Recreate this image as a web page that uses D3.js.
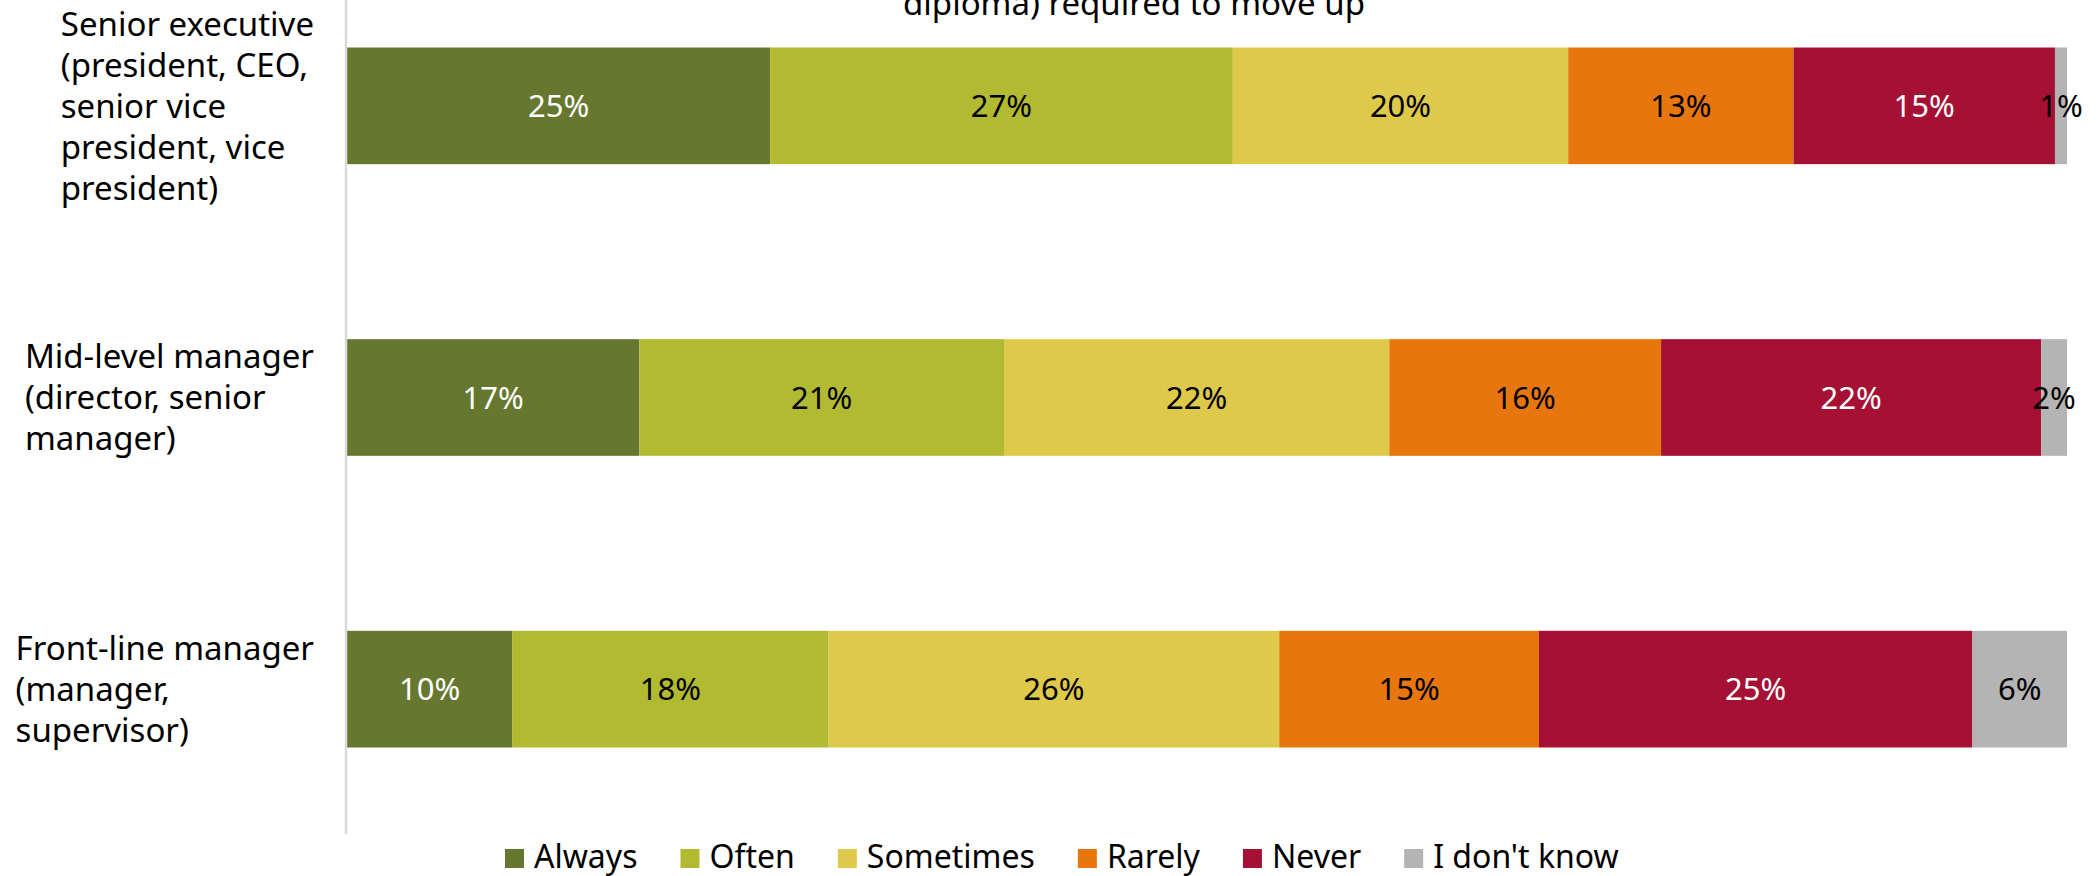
<!DOCTYPE html>
<html>
<head>
<meta charset="utf-8">
<script src="https://cdn.jsdelivr.net/npm/d3@7"></script>
<style>
  body { margin: 0; background: #fff; }
  text { font-family: "Noto Sans", "Liberation Sans", sans-serif; }
</style>
</head>
<body>
<div id="chart"></div>
<script>
// categories, top to bottom
const categories = [
  "Senior executive (president, CEO, senior vice president, vice president)",
  "Mid-level manager (director, senior manager)",
  "Front-line manager (manager, supervisor)"
];
const categoryLines = [
  ["Senior executive", "(president, CEO,", "senior vice", "president, vice", "president)"],
  ["Mid-level manager", "(director, senior", "manager)"],
  ["Front-line manager", "(manager,", "supervisor)"]
];

const seriesNames = ["Always", "Often", "Sometimes", "Rarely", "Never", "I don't know"];
const seriesColors = ["#66782f", "#b2ba32", "#dec94b", "#e7760e", "#a41134", "#b4b4b4"];
const labelColors = ["#fff", "#000", "#000", "#000", "#fff", "#000"];

// percent per category (senior, mid, front-line)
const always    = [24.6, 17.0, 9.6];
const often     = [26.9, 21.2, 18.4];
const sometimes = [19.5, 22.4, 26.2];
const rarely    = [13.1, 15.8, 15.1];
const never     = [15.2, 22.1, 25.2];
const dontKnow  = [0.7, 1.5, 5.5];

const titleText = "diploma) required to move up";

const width = 2099, height = 876;
const margin = { top: -40, right: 32, bottom: 41, left: 347 };

const rows = categories.map((c, i) => ({
  category: c,
  "Always": always[i],
  "Often": often[i],
  "Sometimes": sometimes[i],
  "Rarely": rarely[i],
  "Never": never[i],
  "I don't know": dontKnow[i]
}));

const stacked = d3.stack().keys(seriesNames)(rows);

const svg = d3.select("#chart")
  .append("svg")
  .attr("width", width)
  .attr("height", height);

const x = d3.scaleLinear()
  .domain([0, 100])
  .range([margin.left, width - margin.right]);

const y = d3.scaleBand()
  .domain(categories)
  .range([margin.top, height - margin.bottom])
  .paddingInner(0.6)
  .paddingOuter(0.3);

// title (only the last line is in view)
svg.append("text")
  .attr("x", 1134)
  .attr("y", 15)
  .attr("text-anchor", "middle")
  .attr("font-size", 33)
  .attr("fill", "#000")
  .text(titleText);

// bars
const layer = svg.selectAll("g.layer")
  .data(stacked)
  .enter()
  .append("g")
  .attr("class", "layer")
  .attr("fill", (d, i) => seriesColors[i]);

layer.selectAll("rect")
  .data(d => d)
  .enter()
  .append("rect")
  .attr("x", d => x(d[0]))
  .attr("y", d => y(d.data.category))
  .attr("width", d => x(d[1]) - x(d[0]))
  .attr("height", y.bandwidth());

// value labels
layer.each(function(s, si) {
  d3.select(this).selectAll("text")
    .data(s)
    .enter()
    .append("text")
    .attr("x", d => (x(d[0]) + x(d[1])) / 2)
    .attr("y", d => y(d.data.category) + y.bandwidth() / 2)
    .attr("dy", "0.36em")
    .attr("text-anchor", "middle")
    .attr("font-size", 31)
    .attr("fill", labelColors[si])
    .text(d => Math.round(d[1] - d[0]) + "%");
});

// axis line
svg.append("g")
  .attr("transform", `translate(${margin.left - 1},0)`)
  .call(d3.axisLeft(y).tickSize(0).tickFormat(""))
  .call(g => g.select(".domain").attr("stroke", "#d9d9d9").attr("stroke-width", 2.5)
    .attr("d", `M0,${0}V${834}`));

// category labels: lines left aligned, block right aligned at 314
const lineH = 41;
categoryLines.forEach((lines, i) => {
  const cy = y(categories[i]) + y.bandwidth() / 2;
  const g = svg.append("g");
  const t = g.append("text")
    .attr("font-size", 33)
    .attr("fill", "#000");
  lines.forEach((l, j) => {
    t.append("tspan")
      .attr("x", 0)
      .attr("y", cy + (j - (lines.length - 1) / 2) * lineH)
      .attr("dy", "0.36em")
      .text(l);
  });
  const w = d3.max(t.selectAll("tspan").nodes(), n => n.getComputedTextLength());
  g.attr("transform", `translate(${314 - w},0)`);
});

// Legend
const legend = svg.append("g")
  .attr("class", "legend")
  .attr("transform", "translate(505,868)");
let lx = 0;
seriesNames.forEach((name, i) => {
  const item = legend.append("g").attr("transform", `translate(${lx},0)`);
  item.append("rect")
    .attr("width", 19)
    .attr("height", 19)
    .attr("y", -19)
    .attr("fill", seriesColors[i]);
  const t = item.append("text")
    .attr("x", 29)
    .attr("font-size", 32)
    .attr("fill", "#000")
    .text(name);
  lx += 29 + t.node().getComputedTextLength() + 43;
});
</script>
</body>
</html>
